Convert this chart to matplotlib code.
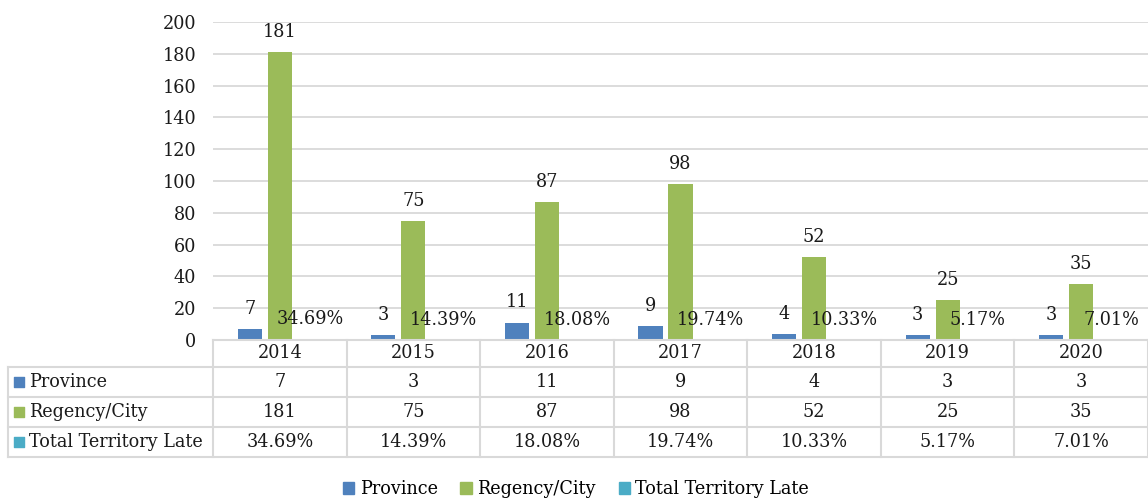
import matplotlib.pyplot as plt
import numpy as np

years = ['2014', '2015', '2016', '2017', '2018', '2019', '2020']
province = [7, 3, 11, 9, 4, 3, 3]
regency = [181, 75, 87, 98, 52, 25, 35]
late_pct = [34.69, 14.39, 18.08, 19.74, 10.33, 5.17, 7.01]
series_names = ['Province', 'Regency/City', 'Total Territory Late']
colors = ['#4F81BD', '#9BBB59', '#4BACC6']

plt.rcParams['font.family'] = ['DejaVu Serif']
fs = 12.7
grid_c = '#d9d9d9'
txt_c = '#1a1a1a'

fig = plt.figure(figsize=(11.48, 5.0), dpi=100)
W, H = 1148.0, 500.0
ax = fig.add_axes([213 / W, 1 - 340 / H, 935 / W, 318 / H])

x = np.arange(len(years))
bw = 0.18
off = 0.2245
late_vals = np.array(late_pct) / 100.0

b1 = ax.bar(x - off, province, bw, color=colors[0])
b2 = ax.bar(x, regency, bw, color=colors[1])
b3 = ax.bar(x + off, late_vals, bw, color=colors[2])

for bars, labels in [(b1, [str(v) for v in province]),
                     (b2, [str(v) for v in regency]),
                     (b3, ['%.2f%%' % v for v in late_pct])]:
    for b, lab in zip(bars, labels):
        ax.annotate(lab, (b.get_x() + b.get_width() / 2, b.get_height()),
                    xytext=(0, 8), textcoords='offset points',
                    ha='center', va='bottom', fontsize=fs, color=txt_c)

ax.set_xlim(-0.5, 6.5)
ax.set_ylim(0, 200)
ax.set_yticks(np.arange(0, 201, 20))
ax.yaxis.grid(True, color=grid_c, lw=1.3)
ax.set_axisbelow(True)
ax.set_xticks([])
ax.tick_params(axis='y', length=0, pad=12, labelsize=fs, labelcolor=txt_c)
for s in ax.spines.values():
    s.set_visible(False)

# data table below the plot
tab = fig.add_axes([213 / W, 1 - 457 / H, 935 / W, 117 / H])
tab.set_xlim(-0.5, 6.5)
tab.set_ylim(117, 0)
tab.axis('off')
left = -0.5 - 205 / (935 / 7)
lw = 1.5
rows = [0, 27, 57, 87, 117]
tab.plot([-0.5, 6.5], [rows[0], rows[0]], color=grid_c, lw=lw, clip_on=False)
for r in rows[1:]:
    tab.plot([left, 6.5], [r, r], color=grid_c, lw=lw, clip_on=False)
for i in range(len(years) + 1):
    tab.plot([i - 0.5, i - 0.5], [0, 117], color=grid_c, lw=lw, clip_on=False)
tab.plot([left, left], [27, 117], color=grid_c, lw=lw, clip_on=False)

cell_rows = [[str(v) for v in province],
             [str(v) for v in regency],
             ['%.2f%%' % v for v in late_pct]]
for i, yr in enumerate(years):
    tab.text(i, 13.5, yr, ha='center', va='center', fontsize=fs, color=txt_c)
for r, (name, vals) in enumerate(zip(series_names, cell_rows)):
    yc = (rows[r + 1] + rows[r + 2]) / 2
    tab.scatter([left + 0.085], [yc], marker='s', s=45, color=colors[r], clip_on=False)
    tab.text(left + 0.155, yc, name, ha='left', va='center', fontsize=fs, color=txt_c)
    for i, v in enumerate(vals):
        tab.text(i, yc, v, ha='center', va='center', fontsize=fs, color=txt_c)

handles = [plt.Rectangle((0, 0), 1, 1, color=c) for c in colors]
fig.legend(handles, series_names, loc='center', bbox_to_anchor=(576 / W, 1 - 489 / H),
           ncol=3, frameon=False, fontsize=fs, handlelength=0.65, handleheight=0.65,
           handletextpad=0.3, columnspacing=1.3)

fig.savefig('out.png', dpi=100)
